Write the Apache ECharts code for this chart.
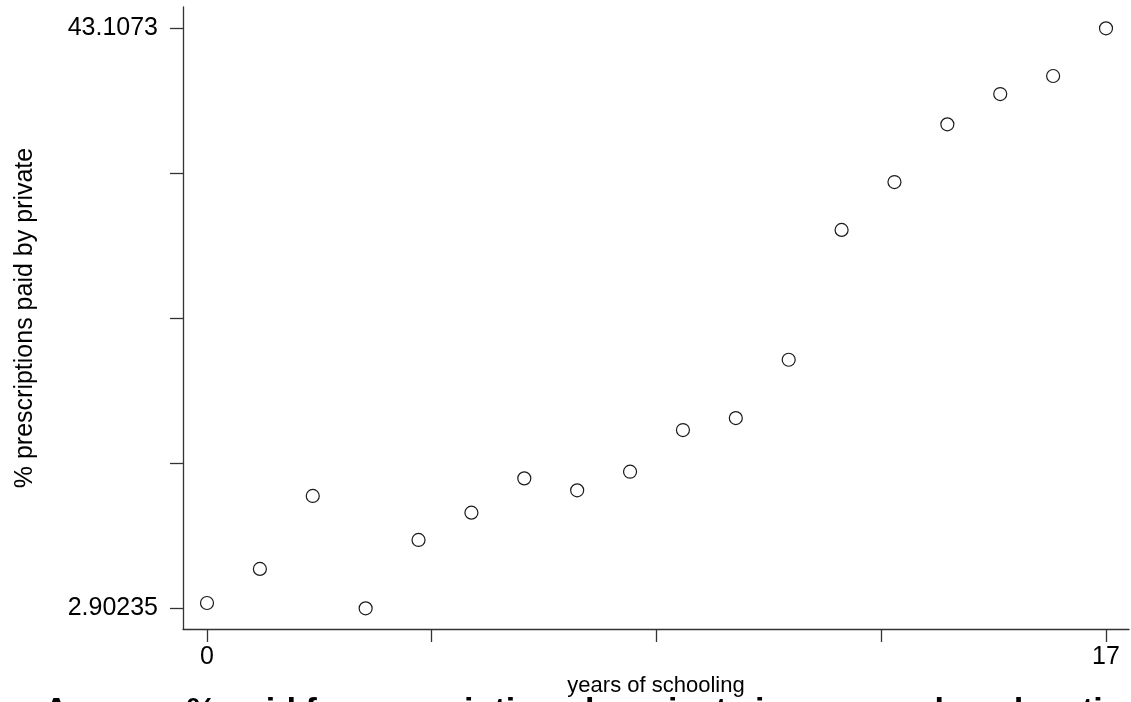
<!DOCTYPE html>
<html>
<head>
<meta charset="utf-8">
<script src="https://cdn.jsdelivr.net/npm/echarts@6/dist/echarts.min.js"></script>
<style>
html,body{margin:0;padding:0;background:#fff;}
#chart{width:1131px;height:702px;}
</style>
</head>
<body>
<div id="chart"></div>
<script>
// Data
const years = [0,1,2,3,4,5,6,7,8,9,10,11,12,13,14,15,16,17];
const pctPrivate = [3.27,5.63,10.69,2.90235,7.64,9.53,11.91,11.08,12.37,15.26,16.09,20.13,29.13,32.45,36.45,38.55,39.80,43.1073];
const xTickValues = [0,4.25,8.5,12.75,17];
const xLabelValues = [0,17];
const yTickValues = [2.90235,12.953588,23.004825,33.056063,43.1073];
const yLabelValues = [2.90235,43.1073];
const yLabelTexts = {'2.90235':'2.90235','43.1073':'43.1073'};
const titleText = 'Average % paid for prescriptions by private insurance, by education';
const xName = 'years of schooling';
const yName = '% prescriptions paid by private';

const points = years.map((x,i)=>[x,pctPrivate[i]]);
const font = 'Liberation Sans, Arial, Helvetica, sans-serif';
const axisCol = '#333';

const chart = echarts.init(document.getElementById('chart'), null, {renderer:'canvas'});
chart.setOption({
  animation:false,
  backgroundColor:'#fff',
  title:{
    text:titleText,
    left:44, top:695, padding:0,
    textStyle:{fontFamily:font,fontWeight:'bold',fontSize:34,color:'#000'}
  },
  grid:{left:183,top:7,right:2,bottom:73,containLabel:false},
  xAxis:{
    type:'value', min:-0.4538, max:17.435,
    name:xName, nameLocation:'middle', nameGap:39,
    nameTextStyle:{fontFamily:font,fontSize:22,color:'#000'},
    axisLine:{show:true,onZero:false,lineStyle:{color:axisCol,width:1.3}},
    axisTick:{show:true,length:13,customValues:xTickValues,lineStyle:{color:axisCol,width:1.3}},
    axisLabel:{show:true,margin:16,customValues:xLabelValues,fontFamily:font,fontSize:25,color:'#000',
      formatter:v=>String(v)},
    splitLine:{show:false}
  },
  yAxis:{
    type:'value', min:1.4675, max:44.584,
    name:yName, nameLocation:'middle', nameGap:145,
    nameTextStyle:{fontFamily:font,fontSize:25,color:'#000'},
    axisLine:{show:true,onZero:false,lineStyle:{color:axisCol,width:1.3}},
    axisTick:{show:true,length:13,customValues:yTickValues,lineStyle:{color:axisCol,width:1.3}},
    axisLabel:{show:true,margin:25,customValues:yLabelValues,fontFamily:font,fontSize:25,color:'#000',
      formatter:v=>{
        for (const k of yLabelValues){ if (Math.abs(v-k)<1e-6) return yLabelTexts[String(k)]; }
        return '';
      }},
    splitLine:{show:false}
  },
  series:[{
    type:'scatter',
    data:points,
    symbol:'circle',
    symbolSize:13,
    itemStyle:{color:'#fff',borderColor:'#1a1a1a',borderWidth:1.2,opacity:1}
  }]
});
</script>
</body>
</html>
